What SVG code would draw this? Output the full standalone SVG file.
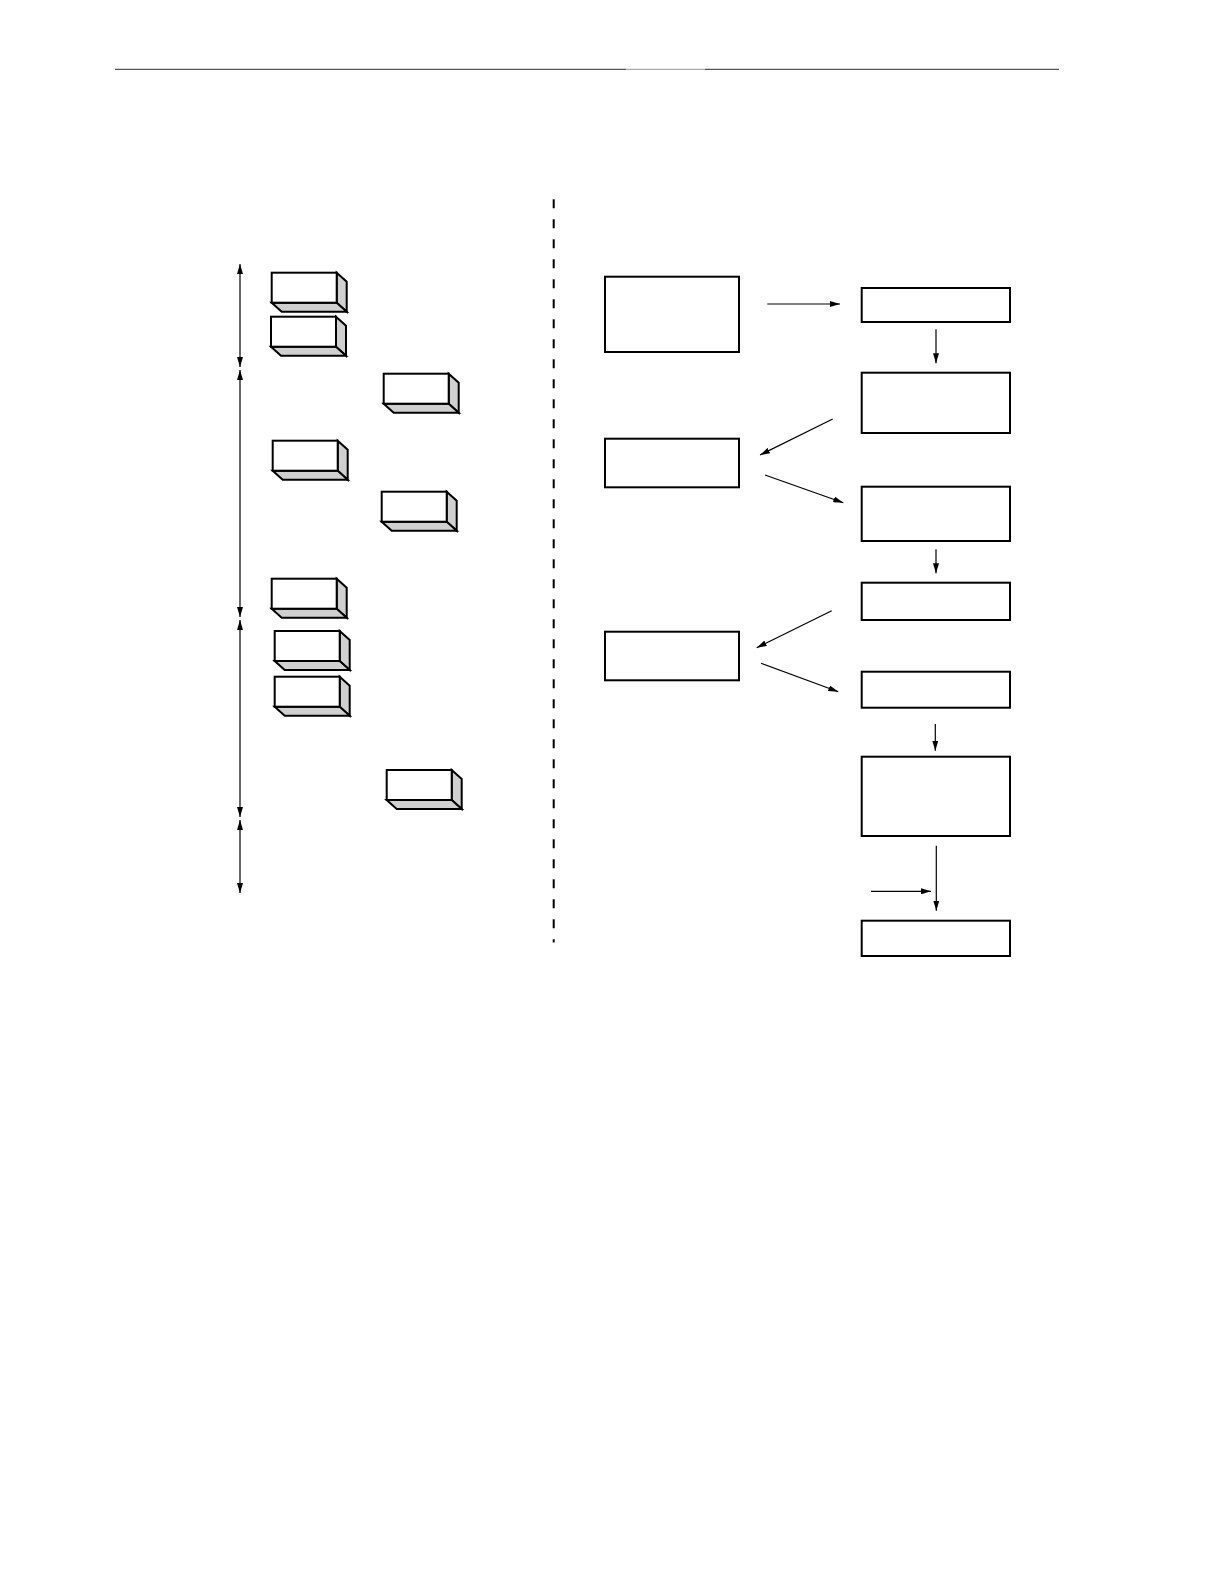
<svg xmlns="http://www.w3.org/2000/svg" width="1224" height="1584" viewBox="0 0 1224 1584">
<style>
.fr{fill:#fff;stroke:#000;stroke-width:2}
.sd{fill:#d0d0d0;stroke:#000;stroke-width:2;stroke-linejoin:miter}
.bx{fill:#fff;stroke:#000;stroke-width:2}
.cn{fill:none;stroke:#000;stroke-width:1.2}
</style>
<defs>
<marker id="ah" viewBox="0 0 10 6" refX="10" refY="3" markerWidth="10" markerHeight="6" markerUnits="userSpaceOnUse" orient="auto-start-reverse">
<path d="M0,0 L10,3 L0,6 Z" fill="#000"/>
</marker>
<g id="blk">
<polygon class="sd" points="65,0 75,9 75,39 65,30"/>
<polygon class="sd" points="0,30 65,30 75,39 10,39"/>
<rect class="fr" x="0" y="0" width="65" height="30"/>
</g>
</defs>
<g id="header">
<line x1="115" y1="69.3" x2="626" y2="69.3" stroke="#555" stroke-width="1.3"/>
<line x1="626" y1="69.3" x2="705" y2="69.3" stroke="#aaa" stroke-width="1.3"/>
<line x1="705" y1="69.3" x2="1059" y2="69.3" stroke="#555" stroke-width="1.3"/>
</g>
<g id="divider">
<line x1="553.7" y1="199.3" x2="553.7" y2="942.5" stroke="#000" stroke-width="2" stroke-dasharray="9 11"/>
</g>
<g id="left-blocks">
<use id="b1" href="#blk" x="271.7" y="272.7"/>
<use id="b2" href="#blk" x="271" y="316.7"/>
<use id="b3" href="#blk" x="383.7" y="373.7"/>
<use id="b4" href="#blk" x="272.7" y="440.7"/>
<use id="b5" href="#blk" x="381.7" y="491.7"/>
<use id="b6" href="#blk" x="271.7" y="578.7"/>
<use id="b7" href="#blk" x="274.7" y="631"/>
<use id="b8" href="#blk" x="274.7" y="676.7"/>
<use id="b9" href="#blk" x="386.7" y="770"/>
</g>
<g id="right-boxes">
<rect id="r1" class="bx" x="605" y="276.7" width="134" height="75.3"/>
<rect id="r2" class="bx" x="861.7" y="288" width="148.3" height="34"/>
<rect id="r3" class="bx" x="861.7" y="372.7" width="148.3" height="60.3"/>
<rect id="r4" class="bx" x="605" y="438.7" width="134" height="48.6"/>
<rect id="r5" class="bx" x="861.7" y="486.7" width="148.3" height="54.3"/>
<rect id="r6" class="bx" x="861.7" y="582.7" width="148.3" height="37.3"/>
<rect id="r7" class="bx" x="605" y="631.7" width="134" height="48.6"/>
<rect id="r8" class="bx" x="861.7" y="671.7" width="148.3" height="36"/>
<rect id="r9" class="bx" x="861.7" y="756.7" width="148.3" height="79.3"/>
<rect id="r10" class="bx" x="861.7" y="920.7" width="148.3" height="35.3"/>
</g>
<g id="connectors">
<line class="cn" x1="240" y1="264" x2="240" y2="367" marker-start="url(#ah)" marker-end="url(#ah)"/>
<line class="cn" x1="240" y1="370" x2="240" y2="617" marker-start="url(#ah)" marker-end="url(#ah)"/>
<line class="cn" x1="240" y1="620" x2="240" y2="817" marker-start="url(#ah)" marker-end="url(#ah)"/>
<line class="cn" x1="240" y1="820" x2="240" y2="893" marker-start="url(#ah)" marker-end="url(#ah)"/>
<line class="cn" x1="767.3" y1="304" x2="840" y2="304" marker-end="url(#ah)"/>
<line class="cn" x1="936" y1="329.3" x2="936" y2="363.3" marker-end="url(#ah)"/>
<line class="cn" x1="832.7" y1="419" x2="760" y2="455" marker-end="url(#ah)"/>
<line class="cn" x1="765" y1="475" x2="843.3" y2="502.7" marker-end="url(#ah)"/>
<line class="cn" x1="936" y1="549.3" x2="936" y2="573.3" marker-end="url(#ah)"/>
<line class="cn" x1="831.7" y1="610.7" x2="756.7" y2="647.7" marker-end="url(#ah)"/>
<line class="cn" x1="761" y1="663.3" x2="838.3" y2="691.7" marker-end="url(#ah)"/>
<line class="cn" x1="935.3" y1="724" x2="935.3" y2="750.7" marker-end="url(#ah)"/>
<line class="cn" x1="936.3" y1="845.7" x2="936.3" y2="910.7" marker-end="url(#ah)"/>
<line class="cn" x1="871" y1="891.3" x2="931" y2="891.3" marker-end="url(#ah)"/>
</g>
</svg>
